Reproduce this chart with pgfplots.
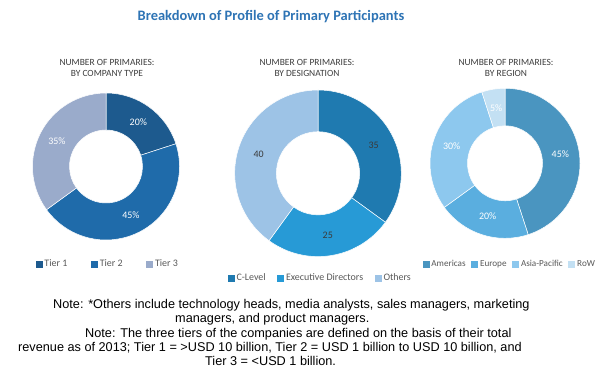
\documentclass[border=0pt]{standalone}
\usepackage{fontspec}
\setmainfont{Carlito}
\newfontfamily\arialfont{Liberation Sans}
\usepackage{pgfplots}
\pgfplotsset{compat=1.18}

\definecolor{titleblue}{HTML}{2E74B5}
\definecolor{subgray}{HTML}{3F3F3F}
\definecolor{leggray}{HTML}{595959}
\definecolor{lblgray}{HTML}{3A3A3A}
\definecolor{tA}{HTML}{1D5A8E}
\definecolor{tB}{HTML}{1F6BAA}
\definecolor{tC}{HTML}{9AABCB}
\definecolor{dA}{HTML}{1F7AB0}
\definecolor{dB}{HTML}{279AD6}
\definecolor{dC}{HTML}{9DC3E6}
\definecolor{rA}{HTML}{4A95C0}
\definecolor{rB}{HTML}{5AAEDF}
\definecolor{rC}{HTML}{8DC8EE}
\definecolor{rD}{HTML}{C3E0F3}

\newcommand\lblfont{\fontsize{10}{11}\selectfont}
\newcommand\legfont{\fontsize{10}{11}\selectfont}
\newcommand\legfontsmall{\fontsize{9.2}{10}\selectfont}
\newcommand\subfont{\fontsize{9.5}{11.5}\selectfont}
\newcommand\notefont{\arialfont\fontsize{12.75}{14}\selectfont}

% #1 start (percent of whole), #2 value, #3 colour, #4 outer radius, #5 inner radius
\newcommand{\slice}[5]{%
 \pgfmathsetmacro\aA{90-3.6*#1}%
 \pgfmathsetmacro\aB{90-3.6*(#1+#2)}%
 \pgfmathsetmacro\xA{#4*cos(\aA)}%
 \pgfmathsetmacro\yA{#4*sin(\aA)}%
 \pgfmathsetmacro\xB{#5*cos(\aB)}%
 \pgfmathsetmacro\yB{#5*sin(\aB)}%
 \edef\temp{\noexpand\fill[#3,draw=white,line width=0.5pt] (axis cs:\xA,\yA) arc[start angle=\aA,end angle=\aB,radius=#4] -- (axis cs:\xB,\yB) arc[start angle=\aB,end angle=\aA,radius=#5] -- cycle;}%
 \temp
}
% #1 start, #2 value, #3 label radius, #4 text colour, #5 suffix
\newcommand{\slicelabel}[5]{%
 \pgfmathsetmacro\aM{90-3.6*(#1+#2/2)}%
 \pgfmathsetmacro\xM{#3*cos(\aM)}%
 \pgfmathsetmacro\yM{#3*sin(\aM)}%
 \edef\temp{\noexpand\node[text=#4,font=\noexpand\lblfont,inner sep=0pt] at (axis cs:\xM,\yM) {#2#5};}%
 \temp
}

\pgfplotsset{donut/.style={anchor=center, x=1bp, y=1bp, xmin=-100, xmax=100, ymin=-100, ymax=100,
  hide axis, clip=false, scale only axis,
  legend columns=-1,
  legend style={draw=none, fill=none, font=\legfont, text=leggray, anchor=center, inner sep=0pt,
    nodes={inner ysep=1.5bp, inner xsep=2.5bp}}}}

\begin{document}
\begin{tikzpicture}
\path[use as bounding box, fill=white] (0bp,0bp) rectangle (600bp,374bp);

\node[font=\fontsize{14.5}{16}\selectfont\bfseries, text=titleblue] at (271bp,357bp) {Breakdown of Profile of Primary Participants};

\node[font=\subfont, text=subgray, align=center] at (107bp,306bp) {NUMBER OF PRIMARIES:\\BY COMPANY TYPE};
\node[font=\subfont, text=subgray, align=center] at (307bp,306bp) {NUMBER OF PRIMARIES:\\BY DESIGNATION};
\node[font=\subfont, text=subgray, align=center] at (506bp,306bp) {NUMBER OF PRIMARIES:\\BY REGION};

% Chart 1: by company type
\begin{axis}[donut, at={(106bp,207.5bp)},
  legend style={at={(0.51,0.0125)}, /tikz/every even column/.append style={column sep=21bp}}]
\addlegendimage{legend image code/.code={\fill[tA] (0bp,-3bp) rectangle (6bp,3bp);}}
\addlegendentry{Tier 1}
\addlegendimage{legend image code/.code={\fill[tB] (0bp,-3bp) rectangle (6bp,3bp);}}
\addlegendentry{Tier 2}
\addlegendimage{legend image code/.code={\fill[tC] (0bp,-3bp) rectangle (6bp,3bp);}}
\addlegendentry{Tier 3}
\slice{0}{20}{tA}{73.5}{36.5}
\slice{20}{45}{tB}{73.5}{36.5}
\slice{65}{35}{tC}{73.5}{36.5}
\slicelabel{0}{20}{55}{white}{\%}
\slicelabel{20}{45}{55}{white}{\%}
\slicelabel{65}{35}{55}{white}{\%}
\end{axis}

% Chart 2: by designation
\begin{axis}[donut, at={(318bp,200.7bp)},
  legend style={at={(0.5125,-0.0235)}, /tikz/every even column/.append style={column sep=9bp}}]
\addlegendimage{legend image code/.code={\fill[dA] (0bp,-3bp) rectangle (6bp,3bp);}}
\addlegendentry{C-Level}
\addlegendimage{legend image code/.code={\fill[dB] (0bp,-3bp) rectangle (6bp,3bp);}}
\addlegendentry{Executive Directors}
\addlegendimage{legend image code/.code={\fill[dC] (0bp,-3bp) rectangle (6bp,3bp);}}
\addlegendentry{Others}
\slice{0}{35}{dA}{83.3}{41.6}
\slice{35}{25}{dB}{83.3}{41.6}
\slice{60}{40}{dC}{83.3}{41.6}
\slicelabel{0}{35}{62.5}{lblgray}{}
\slicelabel{35}{25}{62.5}{lblgray}{}
\slicelabel{60}{40}{62.5}{lblgray}{}
\end{axis}

% Chart 3: by region
\begin{axis}[donut, at={(505bp,210.7bp)},
  legend style={at={(0.525,-0.0035)}, font=\legfontsmall, /tikz/every even column/.append style={column sep=3bp}}]
\addlegendimage{legend image code/.code={\fill[rA] (0bp,-3bp) rectangle (6bp,3bp);}}
\addlegendentry{Americas}
\addlegendimage{legend image code/.code={\fill[rB] (0bp,-3bp) rectangle (6bp,3bp);}}
\addlegendentry{Europe}
\addlegendimage{legend image code/.code={\fill[rC] (0bp,-3bp) rectangle (6bp,3bp);}}
\addlegendentry{Asia-Pacific}
\addlegendimage{legend image code/.code={\fill[rD] (0bp,-3bp) rectangle (6bp,3bp);}}
\addlegendentry{RoW}
\slice{0}{45}{rA}{75}{37.5}
\slice{45}{20}{rB}{75}{37.5}
\slice{65}{30}{rC}{75}{37.5}
\slice{95}{5}{rD}{75}{37.5}
\slicelabel{0}{45}{56}{white}{\%}
\slicelabel{45}{20}{56}{white}{\%}
\slicelabel{65}{30}{56}{white}{\%}
\slicelabel{95}{5}{56}{white}{\%}
\end{axis}

\node[font=\notefont, anchor=base west, inner sep=0pt] at (53bp,65.5bp) {Note: *Others include technology heads, media analysts, sales managers, marketing};
\node[font=\notefont, anchor=base west, inner sep=0pt] at (175bp,51.2bp) {managers, and product managers.};
\node[font=\notefont, anchor=base west, inner sep=0pt] at (85bp,37bp) {Note: The three tiers of the companies are defined on the basis of their total};
\node[font=\notefont, anchor=base west, inner sep=0pt] at (18bp,22.6bp) {revenue as of 2013; Tier 1 = >USD 10 billion, Tier 2 = USD 1 billion to USD 10 billion, and};
\node[font=\notefont, anchor=base west, inner sep=0pt] at (205bp,8.3bp) {Tier 3 = <USD 1 billion.};
\end{tikzpicture}
\end{document}
